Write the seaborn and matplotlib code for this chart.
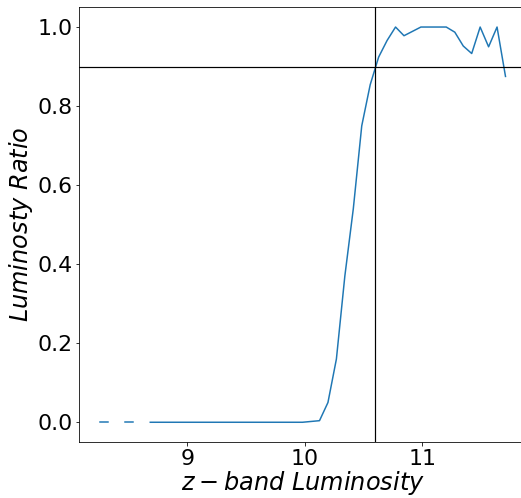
import numpy as np
import pandas as pd
import matplotlib
matplotlib.use("Agg")
import matplotlib.pyplot as plt
import seaborn as sns

# luminosity bins and the ratio in each (NaN = empty bin)
lum = [8.252, 8.324, 8.396, 8.468, 8.540, 8.612, 8.684, 8.756, 8.828, 8.900,
       8.973, 9.045, 9.117, 9.189, 9.261, 9.333, 9.405, 9.477, 9.549, 9.621,
       9.693, 9.765, 9.837, 9.909, 9.981, 10.053, 10.126, 10.198, 10.270, 10.342,
       10.414, 10.486, 10.558, 10.630, 10.702, 10.774, 10.846, 10.918, 10.990, 11.062,
       11.134, 11.206, 11.279, 11.351, 11.423, 11.495, 11.567, 11.639, 11.711]
ratio = [0.0, 0.0, np.nan, 0.0, 0.0, np.nan, 0.0, 0.0, 0.0, 0.0,
         0.0, 0.0, 0.0, 0.0, 0.0, 0.0, 0.0, 0.0, 0.0, 0.0,
         0.0, 0.0, 0.0, 0.0, 0.0, 0.002, 0.004, 0.05, 0.16, 0.37,
         0.54, 0.75, 0.854, 0.924, 0.966, 1.0, 0.978, 0.989, 1.0, 1.0,
         1.0, 1.0, 0.987, 0.952, 0.933, 1.0, 0.95, 1.0, 0.875]

lum_cut = 10.6
ratio_cut = 0.9

df = pd.DataFrame({"lum": lum, "ratio": ratio})
# split into segments at empty bins so the gaps stay visible
df["seg"] = df["ratio"].isna().cumsum()
df = df.dropna()

fig = plt.figure(figsize=(521 / 72, 498 / 72), dpi=72)
ax = fig.add_axes([0.1522, 0.1124, 0.857, 0.873])
sns.lineplot(data=df, x="lum", y="ratio", units="seg", estimator=None,
             color="#1f77b4", lw=1.5, ax=ax)
ax.axvline(lum_cut, color="k", lw=1.2)
ax.axhline(ratio_cut, color="k", lw=1.2)

ax.set_xlabel(r"$z-band\ Luminosity$", fontsize=24, labelpad=0)
ax.set_ylabel(r"$Luminosty\ Ratio$", fontsize=24, labelpad=2)
ax.tick_params(labelsize=22)

fig.savefig("out.png", dpi=72)
